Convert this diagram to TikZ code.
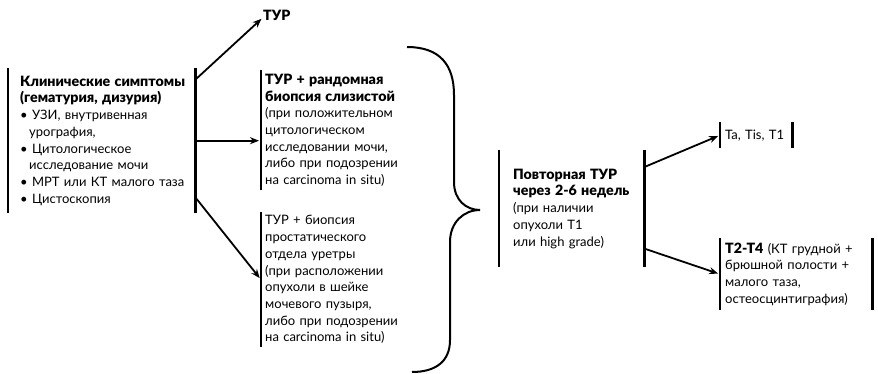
\documentclass[tikz,border=0pt]{standalone}
\usepackage{fontspec}
\setmainfont{Lato}[BoldFont={Lato Black}]
\usetikzlibrary{calc, arrows.meta}

% bold heading text, a little larger than the body
\newcommand{\hd}[1]{{\fontsize{14.2}{16.7}\selectfont\bfseries #1}}

\begin{document}
\begin{tikzpicture}[x=1pt, y=-1pt,
    txt/.style={anchor=north west, align=left, inner ysep=0pt,
        font=\fontsize{13}{16.7}\selectfont},
    bar/.style={line width=2.4pt},
    arr/.style={line width=1.8pt, -{Stealth[length=9pt, width=7pt]}, shorten >=2pt}]
    \useasboundingbox (0,0) rectangle (878,374);

    % Define the boxes (the bars are drawn below)
    \node[txt, inner xsep=12pt, text width=163pt, minimum width=187pt, minimum height=145pt] (sym) at (8,68)
        {\mbox{\hd{Клинические симптомы}}\\
         \mbox{\hd{(гематурия, дизурия)}}\\
         \textbullet\ УЗИ, внутривенная\\
         \hspace*{9pt}урография,\\
         \textbullet\ Цитологическое\\
         \hspace*{9pt}исследование мочи\\
         \mbox{\textbullet\ МРТ или КТ малого таза}\\
         \textbullet\ Цистоскопия};

    \node[txt, anchor=west, inner sep=0pt] (tur) at (263,15) {\hd{ТУР}};

    \node[txt, inner xsep=4pt, text width=150pt, minimum height=120pt] (rb) at (261,70)
        {\hd{ТУР + рандомная}\\
         \hd{биопсия слизистой}\\
         (при положительном\\
         цитологическом\\
         исследовании мочи,\\
         либо при подозрении\\
         на carcinoma in situ)};

    \node[txt, inner xsep=4pt, text width=150pt, minimum height=135pt] (pb) at (261,212)
        {ТУР + биопсия\\
         простатического\\
         отдела уретры\\
         (при расположении\\
         опухоли в шейке\\
         мочевого пузыря,\\
         либо при подозрении\\
         на carcinoma in situ)};

    \node[txt, inner xsep=14pt, text width=117pt, minimum width=145pt, minimum height=117pt] (rep) at (499,150)
        {\mbox{\hd{Повторная ТУР}}\\
         \mbox{\hd{через 2-6 недель}}\\
         (при наличии\\
         опухоли T1\\
         или high grade)};

    \node[txt, inner xsep=5pt, text width=62pt, minimum width=72pt, minimum height=26pt] (ta) at (720,122)
        {Ta, Tis, T1};

    \node[txt, inner xsep=5pt, text width=142pt, minimum width=152pt, minimum height=72pt] (tt) at (720,238)
        {\mbox{\hd{T2-T4} (КТ грудной +}\\
         брюшной полости +\\
         малого таза,\\
         остеосцинтиграфия)};

    % --- Bars ---
    \draw[bar] (sym.north west) -- (sym.south west);
    \draw[bar] (sym.north east) -- (sym.south east);
    \draw[bar] (rb.north west) -- (rb.south west);
    \draw[bar] (pb.north west) -- (pb.south west);
    \draw[bar] (rep.north west) -- (rep.south west);
    \draw[bar] (rep.north east) -- (rep.south east);
    \draw[bar] (ta.north west) -- (ta.south west);
    \draw[bar] (ta.north east) -- (ta.south east);
    \draw[bar] (tt.north west) -- (tt.south west);
    \draw[bar] (tt.north east) -- (tt.south east);

    % --- Arrows ---
    \draw[arr] ($(sym.north east)!0.08!(sym.south east)$) -- ([yshift=3pt]tur.south west);
    \draw[arr] (sym.east) -- (rb.west |- sym.east);
    \draw[arr] ($(sym.north east)!0.89!(sym.south east)$) -- (pb.west);
    \draw[arr] ($(rep.north east)!0.145!(rep.south east)$) -- (ta.west);
    \draw[arr] ($(rep.north east)!0.84!(rep.south east)$) -- (tt.west);

    % The brace
    \draw[line width=2pt] (407,47) .. controls (440,47) and (454,65) .. (454,95)
        -- (454,182) .. controls (454,200) and (466,210) .. (480,210)
        .. controls (464,210) and (450,222) .. (450,242)
        -- (450,340) .. controls (450,362) and (435,372) .. (412,372);
\end{tikzpicture}
\end{document}
